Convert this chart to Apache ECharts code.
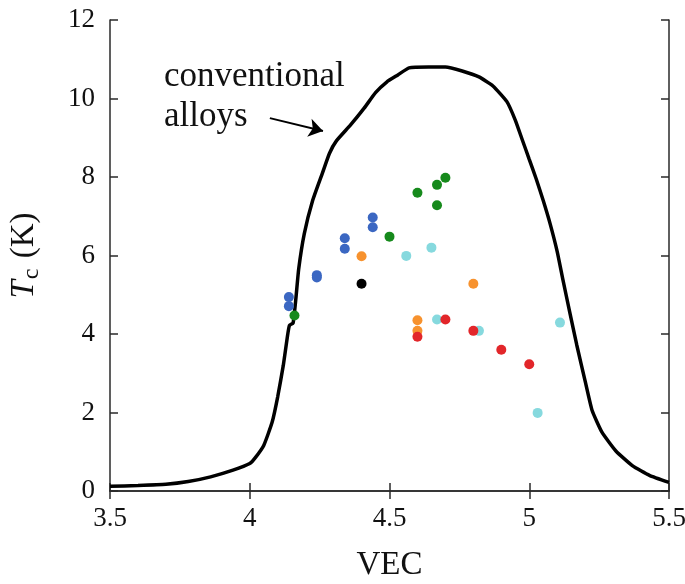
<!DOCTYPE html>
<html>
<head>
<meta charset="utf-8">
<script src="https://cdn.jsdelivr.net/npm/echarts@6/dist/echarts.min.js"></script>
<style>
  html, body { margin: 0; padding: 0; background: #fff; }
  #main { width: 685px; height: 584px; }
</style>
</head>
<body>
<div id="main"></div>
<script>
// conventional alloys curve (VEC, Tc)
var curveVec = [3.5, 3.6, 3.7, 3.78, 3.86, 3.94, 4.0, 4.02, 4.05, 4.08, 4.1, 4.12, 4.135, 4.142, 4.155, 4.165, 4.175, 4.195, 4.225, 4.26, 4.285, 4.31, 4.36, 4.41, 4.45, 4.49, 4.53, 4.57, 4.64, 4.7, 4.76, 4.82, 4.87, 4.92, 4.95, 4.975, 5.0, 5.025, 5.05, 5.075, 5.1, 5.12, 5.145, 5.17, 5.2, 5.225, 5.26, 5.31, 5.37, 5.43, 5.5];
var curveTc = [0.12, 0.14, 0.17, 0.24, 0.36, 0.53, 0.7, 0.85, 1.16, 1.75, 2.4, 3.2, 3.95, 4.22, 4.28, 4.9, 5.65, 6.55, 7.4, 8.1, 8.6, 8.92, 9.32, 9.76, 10.15, 10.42, 10.6, 10.78, 10.8, 10.8, 10.7, 10.55, 10.32, 9.92, 9.45, 8.95, 8.45, 7.95, 7.4, 6.8, 6.1, 5.4, 4.55, 3.72, 2.8, 2.05, 1.5, 1.02, 0.64, 0.4, 0.22];

// measured points, grouped by colour
var blueVec = [4.14, 4.14, 4.24, 4.24, 4.34, 4.34, 4.44, 4.44];
var blueTc = [4.94, 4.71, 5.5, 5.44, 6.44, 6.17, 6.97, 6.72];
var greenVec = [4.16, 4.5, 4.6, 4.67, 4.67, 4.7];
var greenTc = [4.47, 6.48, 7.6, 7.8, 7.28, 7.98];
var orangeVec = [4.4, 4.6, 4.6, 4.8];
var orangeTc = [5.98, 4.35, 4.08, 5.28];
var blackVec = [4.4];
var blackTc = [5.28];
var cyanVec = [4.56, 4.65, 4.67, 4.82, 5.03, 5.11];
var cyanTc = [5.99, 6.2, 4.37, 4.08, 1.99, 4.29];
var redVec = [4.6, 4.7, 4.8, 4.9, 5.0];
var redTc = [3.93, 4.37, 4.08, 3.6, 3.23];

var xTicks = [3.5, 4, 4.5, 5, 5.5];
var yTicks = [0, 2, 4, 6, 8, 10, 12];

function pairs(xs, ys) {
  return xs.map(function (x, i) { return [x, ys[i]]; });
}

var serif = "'Liberation Serif', 'DejaVu Serif', serif";
var axisColor = "#2a2a2a";

function dots(name, xs, ys, color) {
  return {
    name: name,
    type: "scatter",
    data: pairs(xs, ys),
    symbolSize: 10,
    z: 5,
    itemStyle: { color: color, opacity: 1 },
  };
}

var myChart = echarts.init(document.getElementById("main"));
var option = {
  animation: false,
  backgroundColor: "#fff",
  grid: { left: 110, right: 16, top: 20, bottom: 93, containLabel: false, outerBoundsMode: "none" },
  xAxis: [
    {
      type: "value",
      min: 3.5,
      max: 5.5,
      interval: 0.5,
      name: "VEC",
      nameLocation: "middle",
      nameGap: 58,
      nameTextStyle: { fontFamily: serif, fontSize: 33, color: "#111" },
      axisLine: { lineStyle: { color: axisColor, width: 1.5 } },
      axisTick: { inside: true, length: 8, lineStyle: { color: axisColor, width: 1.5 } },
      axisLabel: {
        margin: 14,
        fontFamily: serif,
        fontSize: 27,
        color: "#111",
        formatter: function (v) { return xTicks.indexOf(v) >= 0 ? String(v) : ""; },
      },
      splitLine: { show: false },
    },
    {
      type: "value",
      position: "top",
      min: 3.5,
      max: 5.5,
      interval: 0.5,
      axisLine: { show: true, lineStyle: { color: axisColor, width: 1.5 } },
      axisTick: { inside: true, length: 8, lineStyle: { color: axisColor, width: 1.5 } },
      axisLabel: { show: false },
      splitLine: { show: false },
    },
  ],
  yAxis: [
    {
      type: "value",
      min: 0,
      max: 12,
      interval: 2,
      name: "{i|T}{s|c} (K)",
      nameLocation: "middle",
      nameGap: 66,
      nameRotate: 90,
      nameTextStyle: {
        fontFamily: serif,
        fontSize: 33,
        color: "#111",
        rich: {
          i: { fontFamily: serif, fontSize: 33, fontStyle: "italic", color: "#111" },
          s: { fontFamily: serif, fontSize: 24, color: "#111", padding: [16, 2, 0, 1] },
        },
      },
      axisLine: { lineStyle: { color: axisColor, width: 1.5 } },
      axisTick: { inside: true, length: 8, lineStyle: { color: axisColor, width: 1.5 } },
      axisLabel: {
        margin: 15,
        fontFamily: serif,
        fontSize: 27,
        color: "#111",
        formatter: function (v) { return yTicks.indexOf(v) >= 0 ? String(v) : ""; },
      },
      splitLine: { show: false },
    },
    {
      type: "value",
      position: "right",
      min: 0,
      max: 12,
      interval: 2,
      axisLine: { show: true, lineStyle: { color: axisColor, width: 1.5 } },
      axisTick: { inside: true, length: 8, lineStyle: { color: axisColor, width: 1.5 } },
      axisLabel: { show: false },
      splitLine: { show: false },
    },
  ],
  graphic: [
    {
      type: "text",
      left: 164,
      top: 57,
      style: {
        text: "conventional\nalloys",
        font: "35px " + serif,
        lineHeight: 40,
        fill: "#111",
      },
    },
  ],
  series: [
    {
      name: "conventional alloys",
      type: "line",
      data: pairs(curveVec, curveTc),
      showSymbol: false,
      smooth: 0.15,
      z: 2,
      lineStyle: { color: "#000", width: 3.5 },
      markLine: {
        silent: true,
        symbol: ["none", "arrow"],
        symbolSize: 14,
        label: { show: false },
        lineStyle: { color: "#000", width: 2, type: "solid" },
        itemStyle: { color: "#000" },
        data: [[{ coord: [4.072, 9.5] }, { coord: [4.262, 9.17] }]],
      },
    },
    dots("blue", blueVec, blueTc, "#3b67c2"),
    dots("green", greenVec, greenTc, "#168a1c"),
    dots("orange", orangeVec, orangeTc, "#f7922e"),
    dots("black", blackVec, blackTc, "#000000"),
    dots("cyan", cyanVec, cyanTc, "#86d9de"),
    dots("red", redVec, redTc, "#e2262a"),
  ],
};
myChart.setOption(option);
window.onresize = myChart.resize;
</script>
</body>
</html>
